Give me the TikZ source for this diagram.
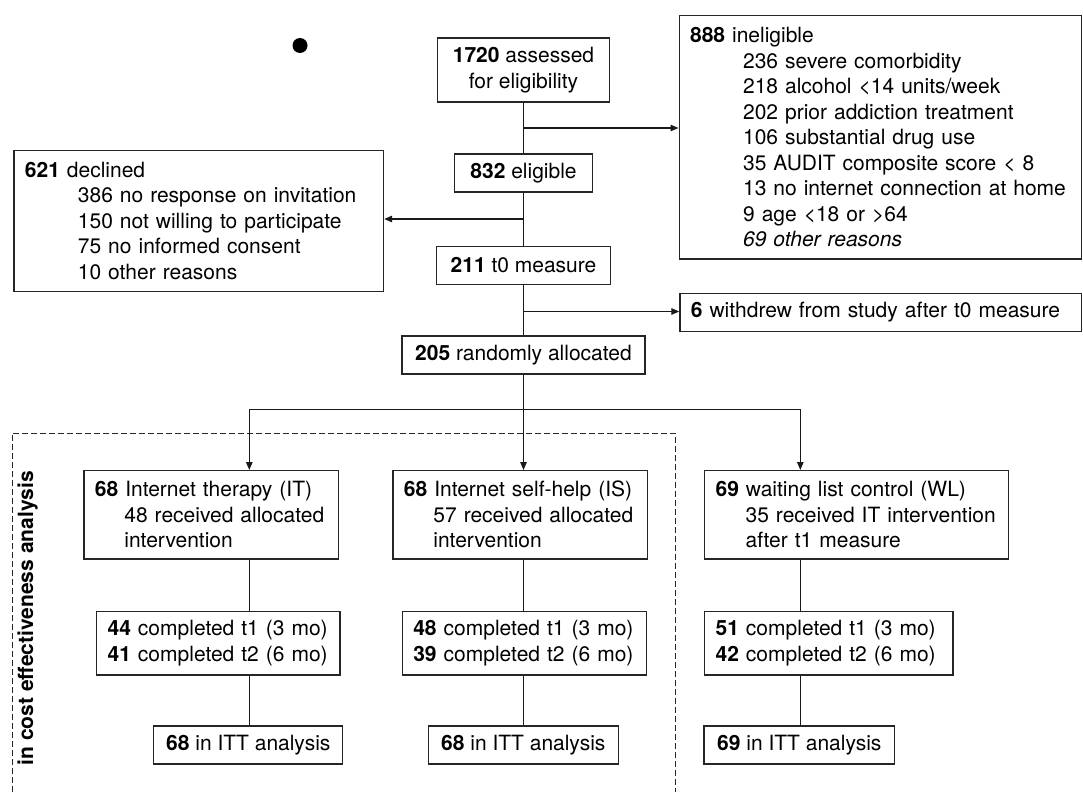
\documentclass[tikz,border=0pt]{standalone}
\usepackage{fontspec}
\setmainfont{TeX Gyre Heros}
\usetikzlibrary{arrows.meta}
\begin{document}
\begin{tikzpicture}[x=1pt,y=-1pt,
  every node/.style={font=\fontsize{21pt}{25.5pt}\selectfont, inner sep=0pt},
  cbox/.style={draw=black!85, line width=1.2pt, align=center},
  lbox/.style={draw=black!85, line width=1.2pt, align=left, inner xsep=11pt, anchor=north west},
  conn/.style={draw=black!90, line width=1.2pt},
  arr/.style={conn, -{Triangle[length=8pt,width=6.5pt]}},
  dashbox/.style={draw=black!85, line width=0.9pt, dash pattern=on 6pt off 3pt}
]
\useasboundingbox (0,0) rectangle (1083,792);

% stray dot
\fill (300,45.5) circle[radius=7.5pt];

% main column
\node[cbox, minimum width=172pt, minimum height=64pt] (asd) at (523.5,70) {\textbf{1720} assessed\\for eligibility};
\node[cbox, minimum width=138pt, minimum height=38pt] (elg) at (523.5,173) {\textbf{832} eligible};
\node[cbox, minimum width=174pt, minimum height=38pt] (tzero) at (523.5,265.5) {\textbf{211} t0 measure};
\node[cbox, minimum width=243pt, minimum height=38pt] (rnd) at (523.5,355) {\textbf{205} randomly allocated};

% side boxes
\node[lbox, minimum height=243.3pt, text width=380.5pt] (inel) at (678.5,15)
 {\textbf{888} ineligible\\
  \hspace*{53pt}236 severe comorbidity\\
  \hspace*{53pt}218 alcohol <14 units/week\\
  \hspace*{53pt}202 prior addiction treatment\\
  \hspace*{53pt}106 substantial drug use\\
  \hspace*{53pt}35 AUDIT composite score < 8\\
  \hspace*{53pt}13 no internet connection at home\\
  \hspace*{53pt}9 age <18 or >64\\
  \hspace*{53pt}\textit{69 other reasons}};
\node[lbox, minimum height=140.7pt, text width=347.7pt] (dec) at (13.3,150)
 {\textbf{621} declined\\
  \hspace*{53pt}386 no response on invitation\\
  \hspace*{53pt}150 not willing to participate\\
  \hspace*{53pt}75 no informed consent\\
  \hspace*{53pt}10 other reasons};
\node[lbox, minimum height=37.8pt, text width=379.7pt] (wd) at (679.3,293)
 {\textbf{6} withdrew from study after t0 measure};

% group boxes
\node[lbox, minimum height=88.3pt, text width=232.4pt] (it) at (83.3,470)
 {\textbf{68} Internet therapy (IT)\\\hspace*{29.5pt}48 received allocated\\\hspace*{29.5pt}intervention};
\node[lbox, minimum height=88.3pt, text width=232.4pt] (is) at (392.3,470)
 {\textbf{68} Internet self-help (IS)\\\hspace*{29.5pt}57 received allocated\\\hspace*{29.5pt}intervention};
\node[lbox, minimum height=88.3pt, text width=281.7pt] (wl) at (704,470)
 {\textbf{69} waiting list control (WL)\\\hspace*{30pt}35 received IT intervention\\\hspace*{30pt}after t1 measure};

\node[lbox, minimum height=63.3pt, text width=221.3pt] (itc) at (96,611)
 {\textbf{44} completed t1 (3 mo)\\\textbf{41} completed t2 (6 mo)};
\node[lbox, minimum height=63.3pt, text width=222.3pt] (isc) at (401.7,611)
 {\textbf{48} completed t1 (3 mo)\\\textbf{39} completed t2 (6 mo)};
\node[lbox, minimum height=63.3pt, text width=226.3pt] (wlc) at (704,611)
 {\textbf{51} completed t1 (3 mo)\\\textbf{42} completed t2 (6 mo)};

\node[cbox, minimum width=189pt, minimum height=38pt] (itt) at (248.3,745) {\textbf{68} in ITT analysis};
\node[cbox, minimum width=190pt, minimum height=38pt] (ist) at (523.3,745) {\textbf{68} in ITT analysis};
\node[cbox, minimum width=190.7pt, minimum height=38pt] (wlt) at (799.3,745) {\textbf{69} in ITT analysis};

% dashed region and label
\coordinate (d1) at (12,792);
\coordinate (d2) at (12,433);
\coordinate (d3) at (675,433);
\coordinate (d4) at (675,792);
\draw[dashbox] (d1) -- (d2) -- (d3) -- (d4);
\node[font=\bfseries\fontsize{21pt}{25.5pt}\selectfont, rotate=90, anchor=base] (cea) at (33,618.3) {in cost effectiveness analysis};

% junctions
\coordinate (j1) at (523.5,128);
\coordinate (j2) at (523.5,219);
\coordinate (j3) at (523.5,311.5);
\coordinate (b1) at (249.3,409.3);
\coordinate (b2) at (523.5,409.3);
\coordinate (b3) at (800.3,409.3);

% connectors
\draw[conn] (asd.south) -- (elg.north);
\draw[conn] (elg.south) -- (tzero.north);
\draw[conn] (tzero.south) -- (rnd.north);
\draw[conn] (rnd.south) -- (b2);
\draw[arr] (j1) -- (j1 -| inel.west);
\draw[arr] (j2) -- (j2 -| dec.east);
\draw[arr] (j3) -- (j3 -| wd.west);
\draw[conn] (b1) -- (b3);
\draw[arr] (b1) -- (b1 |- it.north);
\draw[arr] (b2) -- (b2 |- is.north);
\draw[arr] (b3) -- (b3 |- wl.north);
\draw[conn] (b1 |- it.south) -- (b1 |- itc.north);
\draw[conn] (b2 |- is.south) -- (b2 |- isc.north);
\draw[conn] (b3 |- wl.south) -- (b3 |- wlc.north);
\draw[conn] (b1 |- itc.south) -- (b1 |- itt.north);
\draw[conn] (b2 |- isc.south) -- (b2 |- ist.north);
\draw[conn] (b3 |- wlc.south) -- (b3 |- wlt.north);
\end{tikzpicture}
\end{document}
